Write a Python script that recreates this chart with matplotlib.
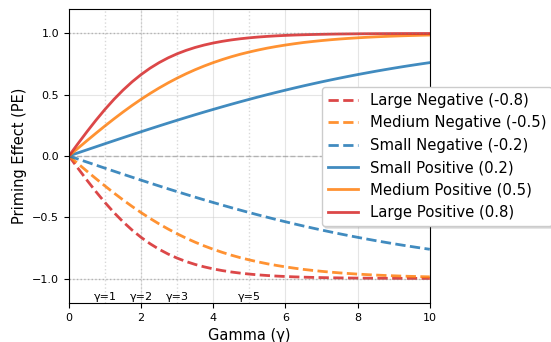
import matplotlib
matplotlib.use("Agg")
import matplotlib.pyplot as plt
import numpy as np

gamma = np.arange(0, 10.001, 0.25)

large_pos = [0.0, 0.0997, 0.1974, 0.2913, 0.3799, 0.4621, 0.5370, 0.6044, 0.6640, 0.7163,
             0.7616, 0.8005, 0.8337, 0.8617, 0.8854, 0.9051, 0.9217, 0.9354, 0.9468, 0.9562,
             0.9640, 0.9705, 0.9757, 0.9801, 0.9837, 0.9866, 0.9890, 0.9910, 0.9926, 0.9940,
             0.9951, 0.9959, 0.9967, 0.9973, 0.9978, 0.9982, 0.9985, 0.9988, 0.9990, 0.9992, 0.9993]
medium_pos = [0.0, 0.0624, 0.1244, 0.1853, 0.2449, 0.3027, 0.3584, 0.4116, 0.4621, 0.5098,
              0.5546, 0.5963, 0.6351, 0.6710, 0.7039, 0.7341, 0.7616, 0.7866, 0.8095, 0.8301,
              0.8483, 0.8649, 0.8800, 0.8932, 0.9051, 0.9158, 0.9257, 0.9338, 0.9414, 0.9481,
              0.9541, 0.9593, 0.9640, 0.9682, 0.9719, 0.9751, 0.9780, 0.9806, 0.9828, 0.9848, 0.9866]
small_pos = [0.0, 0.0250, 0.0500, 0.0749, 0.0997, 0.1244, 0.1489, 0.1732, 0.1974, 0.2213,
             0.2449, 0.2683, 0.2913, 0.3140, 0.3364, 0.3584, 0.3799, 0.4011, 0.4219, 0.4422,
             0.4621, 0.4816, 0.5005, 0.5190, 0.5370, 0.5546, 0.5717, 0.5882, 0.6044, 0.6200,
             0.6351, 0.6498, 0.6640, 0.6777, 0.6911, 0.7039, 0.7163, 0.7283, 0.7398, 0.7509, 0.7616]
large_neg = [-v for v in large_pos]
medium_neg = [-v for v in medium_pos]
small_neg = [-v for v in small_pos]

ref_gammas = [1, 2, 3, 5]

c_red = '#d62728'
c_orange = '#ff7f0e'
c_blue = '#1f77b4'

fig = plt.figure(figsize=(5.51, 3.42), dpi=100)
ax = fig.add_axes([0.125, 0.114, 0.655, 0.86])

ax.grid(True, color='#cccccc', alpha=0.5, linewidth=0.8)
ax.set_axisbelow(True)

series = [
    (large_neg, 'Large Negative (-0.8)', c_red, '--'),
    (medium_neg, 'Medium Negative (-0.5)', c_orange, '--'),
    (small_neg, 'Small Negative (-0.2)', c_blue, '--'),
    (small_pos, 'Small Positive (0.2)', c_blue, '-'),
    (medium_pos, 'Medium Positive (0.5)', c_orange, '-'),
    (large_pos, 'Large Positive (0.8)', c_red, '-'),
]
for vals, lab, col, ls in series:
    ax.plot(gamma, vals, ls, color=col, lw=2, alpha=0.85, label=lab)

ax.axhline(0, color='gray', ls='--', lw=1, alpha=0.5)
ax.axhline(1, color='gray', ls=':', lw=1, alpha=0.5)
ax.axhline(-1, color='gray', ls=':', lw=1, alpha=0.5)
for g in ref_gammas:
    ax.axvline(g, color='gray', ls=':', lw=1, alpha=0.3)
    ax.text(g, -1.15, f'γ={g}', ha='center', va='center', fontsize=8)

ax.set_xlim(0, 10)
ax.set_ylim(-1.2, 1.2)
ax.set_xticks([0, 2, 4, 6, 8, 10])
ax.set_yticks([-1.0, -0.5, 0.0, 0.5, 1.0])
ax.tick_params(labelsize=8)
ax.set_xlabel('Gamma (γ)', fontsize=10.5)
ax.set_ylabel('Priming Effect (PE)', fontsize=10.5)

fig.legend(loc='upper left', bbox_to_anchor=(322/551, 1-87/342), fontsize=10.7,
           framealpha=1, borderaxespad=0,
           shadow={'ox': 1.5, 'oy': -1.5, 'alpha': 0.15})

fig.savefig('out.png', dpi=100)
